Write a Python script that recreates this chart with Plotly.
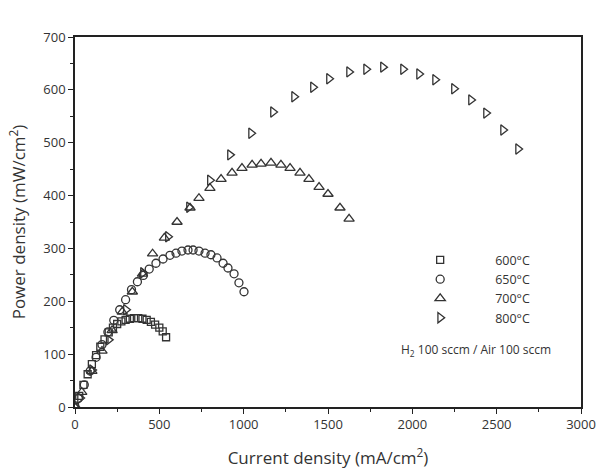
import plotly.graph_objects as go

# 600 °C
i600 = [0, 25, 50, 75, 100, 125, 150, 175, 200, 225, 250, 275, 300, 325, 350, 375, 400, 425, 450, 475, 500, 520, 540]
p600 = [0, 21, 42, 62, 81, 98, 114, 128, 141, 150, 157, 162, 165, 167, 168, 168, 167, 165, 161, 156, 150, 143, 132]

# 650 °C
i650 = [0, 20, 55, 90, 125, 160, 195, 230, 265, 300, 335, 370, 405, 440, 480, 522, 563, 599, 634, 670, 700, 735, 771, 806, 842, 878, 907, 943, 972, 1002]
p650 = [0, 16, 42, 68, 94, 118, 142, 164, 184, 203, 222, 237, 249, 261, 272, 280, 287, 291, 295, 297, 297, 295, 291, 288, 282, 272, 263, 252, 235, 218]

# 700 °C
i700 = [0, 40, 100, 160, 220, 280, 340, 400, 460, 530, 605, 682, 735, 800, 866, 931, 990, 1050, 1103, 1162, 1221, 1275, 1334, 1387, 1447, 1500, 1571, 1625]
p700 = [0, 28, 68, 106, 145, 180, 218, 252, 290, 320, 350, 377, 395, 414, 431, 443, 452, 458, 460, 462, 458, 452, 443, 431, 416, 403, 377, 356]

# 800 °C
i800 = [0, 30, 101, 200, 302, 403, 551, 676, 800, 919, 1044, 1174, 1299, 1411, 1506, 1625, 1726, 1826, 1945, 2040, 2135, 2247, 2348, 2437, 2538, 2627]
p800 = [0, 17, 70, 127, 184, 254, 322, 378, 429, 477, 518, 558, 587, 605, 621, 634, 639, 643, 639, 630, 619, 602, 581, 556, 524, 488]

labels = ["600°C", "650°C", "700°C", "800°C"]
symbols = ["square-open", "circle-open", "triangle-up-open", "triangle-right-open"]
sizes = [7, 8, 9, 9]

ink = "#333333"
fig = go.Figure()
for xs, ys, lab, sym, sz in zip([i600, i650, i700, i800], [p600, p650, p700, p800], labels, symbols, sizes):
    fig.add_trace(go.Scatter(
        x=xs, y=ys, mode="markers", name=lab,
        marker=dict(symbol=sym, size=sz, color=ink, line=dict(color=ink, width=1.3)),
    ))

axis_common = dict(
    showgrid=False, zeroline=False, showline=True, linecolor="#222222", linewidth=1.5,
    mirror=True, ticks="outside", ticklen=5, tickwidth=1, tickcolor="#222222",
    tickfont=dict(family="Open Sans", size=13, color=ink), automargin=False,
)
fig.update_xaxes(range=[0, 3000], dtick=500, minor=dict(ticks="outside", ticklen=3, dtick=250, tickcolor="#222222"),
                 title=dict(text="Current density (mA/cm<sup>2</sup>)", font=dict(family="Open Sans", size=17, color=ink), standoff=21),
                 **axis_common)
fig.update_yaxes(range=[0, 700], dtick=100, minor=dict(ticks="outside", ticklen=3, dtick=50, tickcolor="#222222"),
                 title=dict(text="Power density (mW/cm<sup>2</sup>)", font=dict(family="Open Sans", size=17, color=ink), standoff=13),
                 **axis_common)

fig.add_annotation(x=0.945, y=0.154, xref="paper", yref="paper", xanchor="right", yanchor="middle",
                   text="H<sub>2</sub> 100 sccm / Air 100 sccm", showarrow=False,
                   font=dict(family="Open Sans", size=12, color=ink))

fig.update_layout(
    width=597, height=469,
    margin=dict(l=75, r=16, t=37, b=62),
    paper_bgcolor="white", plot_bgcolor="white",
    legend=dict(x=0.613, y=0.437, xanchor="left", yanchor="top", bgcolor="rgba(0,0,0,0)",
                font=dict(family="Open Sans", size=12.5, color=ink), itemwidth=100, tracegroupgap=0),
)
fig.write_html("out.html")
